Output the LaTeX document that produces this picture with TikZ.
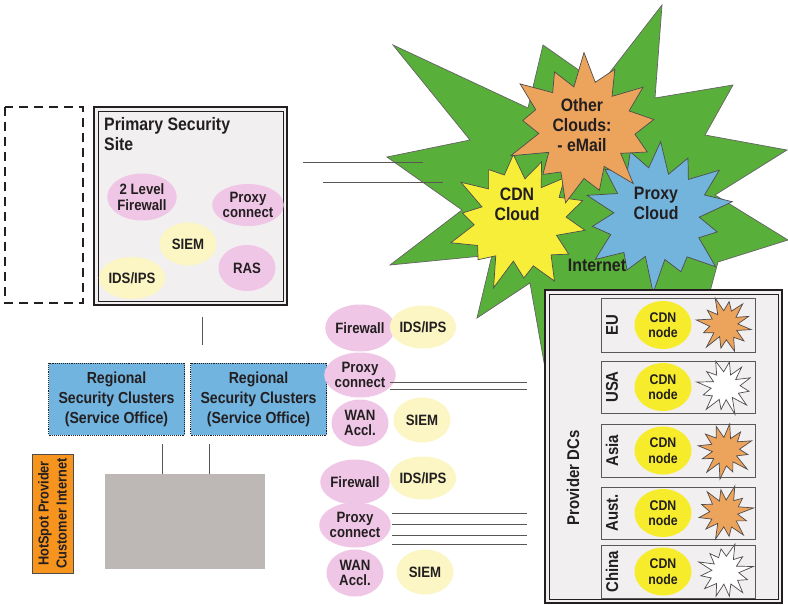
\documentclass[tikz,border=0pt]{standalone}
\usepackage{fontspec}
\setmainfont{Liberation Sans}[FakeStretch=0.88]
\usetikzlibrary{shapes.geometric}

\definecolor{ink}{HTML}{231F20}
\definecolor{wire}{HTML}{5A5656}
\definecolor{pinkfill}{HTML}{F0C6E6}
\definecolor{paleyellow}{HTML}{FBF6C4}
\definecolor{nodeyellow}{HTML}{F6EC2C}
\definecolor{netgreen}{HTML}{58B03A}
\definecolor{cdnyellow}{HTML}{F6EE38}
\definecolor{otherorange}{HTML}{ECA35B}
\definecolor{proxyblue}{HTML}{73B4DD}
\definecolor{clusterblue}{HTML}{72B4E0}
\definecolor{officegrey}{HTML}{BDB7B5}
\definecolor{hotorange}{HTML}{F7941E}
\definecolor{panel}{HTML}{F1EFEF}

% irregular starburst: style, cx, cy, outer r, inner r, points, rotation, seed
\newcommand\burst[8]{%
  \pgfmathtruncatemacro\burstlast{2*#6-1}%
  \path[#1] plot[samples at={0,...,\burstlast}, variable=\k]
    ({#2+ifthenelse(mod(\k,2)==0,#4*(1+0.12*sin(#8+97*\k)),#5*(1+0.1*cos(#8+131*\k)))*cos(#7+\k*180/#6)},
     {#3+ifthenelse(mod(\k,2)==0,#4*(1+0.12*sin(#8+97*\k)),#5*(1+0.1*cos(#8+131*\k)))*sin(#7+\k*180/#6)}) -- cycle;
}

\begin{document}
\begin{tikzpicture}[x=1pt,y=-1pt,
  txt/.style={text=ink,font=\bfseries\fontsize{15}{15.5}\selectfont,align=center,inner sep=0},
  pinkell/.style={ellipse,fill=pinkfill,minimum width=57,minimum height=46,txt},
  yellowell/.style={ellipse,fill=paleyellow,minimum width=57,minimum height=43,txt},
  cdnnode/.style={ellipse,fill=nodeyellow,minimum width=57,minimum height=48,txt},
  wireline/.style={draw=wire,line width=0.9},
  burstline/.style={draw=ink!80,line width=0.7},
  regionbox/.style={draw=ink!75,line width=1,fill=panel},
  cluster/.style={draw=ink,densely dotted,line width=0.9,fill=clusterblue,
    minimum width=136,minimum height=72,txt,font=\bfseries\fontsize{16}{20}\selectfont},
  regionlabel/.style={txt,rotate=90,font=\bfseries\fontsize{17}{19}\selectfont},
  cloudtext/.style={txt,font=\bfseries\fontsize{18}{20}\selectfont}
]
\useasboundingbox (0,0) rectangle (788,605);
\fill[white] (0,0) rectangle (788,605);

% ---------- Internet ----------
\path[fill=netgreen,draw=ink!70,line width=0.7]
  (393,45) -- (528,108) -- (543,45) -- (600,85) -- (662,5) -- (655,98)
  -- (733,85) -- (705,135) -- (787,150) -- (715,195) -- (788,240)
  -- (718,262) -- (705,310) -- (600,290) -- (548,385) -- (530,283)
  -- (477,318) -- (492,255) -- (390,265) -- (462,210) -- (387,157)
  -- (470,140) -- cycle;
\burst{fill=cdnyellow,burstline}{519}{221}{64}{44}{14}{8}{20}
\burst{fill=proxyblue,burstline}{657}{215}{70}{47}{14}{-10}{50}
\burst{fill=otherorange,burstline}{584}{128}{70}{47}{13}{-90}{140}
\node[cloudtext] (cdn) at (517,204) {CDN\\Cloud};
\node[cloudtext] (proxycloud) at (656,203) {Proxy\\Cloud};
\node[cloudtext] (other) at (582,125) {Other\\Clouds:\\- eMail};
\node[cloudtext] (internet) at (597,265) {Internet};

% ---------- Primary security site ----------
\draw[ink,dashed,dash pattern=on 9 off 6,line width=2] (5,107) rectangle (83,303);
\node[draw=ink,line width=2.4,fill=panel,minimum width=193,minimum height=198,inner sep=0]
  (primary) at (190.5,206) {};
\draw[ink,line width=0.8] (98,111) rectangle (283,301);
\node[txt,anchor=north west,align=left,font=\bfseries\fontsize{18}{20}\selectfont]
  (primarytitle) at (104,117) {Primary Security\\Site};
\node[pinkell,minimum height=47] (fw2) at (142,197) {2 Level\\Firewall};
\node[pinkell,minimum width=60,minimum height=42] (proxy0) at (248,205) {Proxy\\connect};
\node[yellowell] (siem0) at (188,244) {SIEM};
\node[pinkell] (ras) at (247,268) {RAS};
\node[yellowell,minimum width=53,minimum height=42] (ids0) at (132,278) {IDS/IPS};

\coordinate (l1a) at (303,162); \coordinate (l1b) at (423,162);
\coordinate (l2a) at (323,182); \coordinate (l2b) at (443,182);
\draw[wireline] (l1a) -- (l1b);
\draw[wireline] (l2a) -- (l2b);

% ---------- Regional clusters ----------
\coordinate (v0a) at (202,317); \coordinate (v0b) at (202,345);
\draw[wireline] (v0a) -- (v0b);
\node[cluster] (rc1) at (116.5,399) {Regional\\Security Clusters\\(Service Office)};
\node[cluster] (rc2) at (258.5,399) {Regional\\Security Clusters\\(Service Office)};
\node[fill=officegrey,minimum width=160,minimum height=95,inner sep=0] (office) at (185,521.5) {};
\coordinate (v1) at (162,444); \coordinate (v2) at (209,444);
\draw[wireline] (v1) -- (v1 |- office.north);
\draw[wireline] (v2) -- (v2 |- office.north);
\node[draw=ink!80,line width=0.8,fill=hotorange,minimum width=41,minimum height=119,inner sep=0]
  (hotbox) at (52.5,513.5) {};
\node[txt,rotate=90,font=\bfseries\fontsize{14.5}{18}\selectfont] (hottext) at (hotbox) {HotSpot Provider\\Customer Internet};

% ---------- Service office stacks ----------
\node[pinkell,minimum height=47] (fwa) at (360,328) {Firewall};
\node[yellowell] (idsa) at (423,327) {IDS/IPS};
\node[pinkell,minimum height=45] (proxya) at (360,375) {Proxy\\connect};
\node[pinkell,minimum height=47] (wana) at (360,423) {WAN\\Accl.};
\node[yellowell,minimum height=45] (siema) at (422,420) {SIEM};
\coordinate (a1) at (390,382); \coordinate (a1e) at (527,382);
\coordinate (a2) at (390,389); \coordinate (a2e) at (527,389);
\draw[wireline] (a1) -- (a1e);
\draw[wireline] (a2) -- (a2e);

\node[pinkell,minimum height=45] (fwb) at (355,482) {Firewall};
\node[yellowell] (idsb) at (423,478) {IDS/IPS};
\node[pinkell,minimum height=45] (proxyb) at (355,525) {Proxy\\connect};
\node[pinkell,minimum height=47] (wanb) at (355,573) {WAN\\Accl.};
\node[yellowell,minimum height=45] (siemb) at (425,572) {SIEM};
\foreach \yy [count=\i] in {513,524,535,544}{
  \coordinate (b\i) at (392,\yy); \coordinate (b\i e) at (527,\yy);
  \draw[wireline] (b\i) -- (b\i e);
}

% ---------- Provider data centres ----------
\node[draw=ink,line width=2.4,fill=panel,minimum width=237,minimum height=313,inner sep=0]
  (dcs) at (663.5,446.5) {};
\draw[ink,line width=0.8] (549,294) rectangle (778,599);
\node[regionlabel] (dcslabel) at (573,478) {Provider DCs};
\foreach \name/\yc/\h/\starfill/\seed in {EU/325/54/otherorange/10, USA/387/52/white/70,
    Asia/450.5/53/otherorange/130, Aust./513/52/otherorange/200, China/571.5/53/white/260}{
  \node[regionbox,minimum width=154,minimum height=\h,inner sep=0] (box\name) at (678,\yc) {};
  \node[regionlabel] (lab\name) at (612,\yc) {\name};
  \node[cdnnode,font=\bfseries\fontsize{14}{15.5}\selectfont] (cdn\name) at (663,\yc) {CDN\\node};
  \burst{fill=\starfill,burstline}{725}{\yc}{26}{14}{12}{\seed}{\seed}
}
\end{tikzpicture}
\end{document}
